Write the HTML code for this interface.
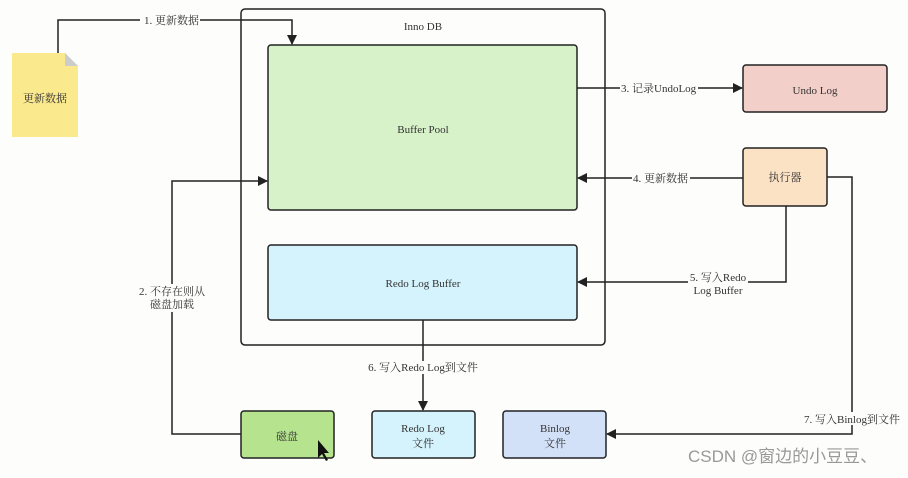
<!DOCTYPE html>
<html><head><meta charset="utf-8"><style>
body{margin:0;background:#fdfdfb;}
svg text{font-family:"Liberation Serif","Noto Serif CJK SC",serif;font-size:11px;fill:#333;}
</style></head><body>
<svg width="908" height="473" viewBox="0 0 908 473" xmlns="http://www.w3.org/2000/svg">
<defs><marker id="a" markerWidth="10" markerHeight="10" refX="9" refY="5" orient="auto" markerUnits="userSpaceOnUse"><path d="M0,0 L10,5 L0,10 z" fill="#222"/></marker></defs>
<rect x="241" y="9" width="364" height="336" rx="4" fill="none" stroke="#222" stroke-width="1.5"/>
<text x="423" y="30" text-anchor="middle">Inno DB</text>
<rect x="268" y="45" width="309" height="165" rx="3" fill="#d7f2c9" stroke="#222" stroke-width="1.5"/>
<text x="423" y="133" text-anchor="middle">Buffer Pool</text>
<rect x="268" y="245" width="309" height="75" rx="3" fill="#d5f3fc" stroke="#222" stroke-width="1.5"/>
<text x="423" y="287" text-anchor="middle">Redo Log Buffer</text>
<path d="M12,53 L65,53 L78,66 L78,137 L12,137 z" fill="#fbe98e"/>
<path d="M65,53 L78,66 L65,66 z" fill="#ccc"/>
<text x="45" y="102" text-anchor="middle">更新数据</text>
<rect x="743" y="65" width="144" height="47" rx="3" fill="#f2cfc9" stroke="#222" stroke-width="1.5"/>
<text x="815" y="94" text-anchor="middle">Undo Log</text>
<rect x="743" y="148" width="84" height="58" rx="3" fill="#fbe2c4" stroke="#222" stroke-width="1.5"/>
<text x="785" y="181" text-anchor="middle">执行器</text>
<rect x="241" y="411" width="93" height="47" rx="3" fill="#b5e38e" stroke="#222" stroke-width="1.5"/>
<text x="287" y="440" text-anchor="middle">磁盘</text>
<rect x="372" y="411" width="103" height="47" rx="3" fill="#d5f3fc" stroke="#222" stroke-width="1.5"/>
<text x="423" y="432" text-anchor="middle">Redo Log</text><text x="423" y="447" text-anchor="middle">文件</text>
<rect x="503" y="411" width="103" height="47" rx="3" fill="#d3e1f8" stroke="#222" stroke-width="1.5"/>
<text x="555" y="432" text-anchor="middle">Binlog</text><text x="555" y="447" text-anchor="middle">文件</text>
<g fill="none" stroke="#222" stroke-width="1.5">
<path d="M58,53 L58,20 L292,20 L292,44" marker-end="url(#a)"/>
<path d="M577,88 L742,88" marker-end="url(#a)"/>
<path d="M743,178 L578,178" marker-end="url(#a)"/>
<path d="M786,206 L786,282 L578,282" marker-end="url(#a)"/>
<path d="M827,177 L852,177 L852,434 L607,434" marker-end="url(#a)"/>
<path d="M241,434 L172,434 L172,181 L267,181" marker-end="url(#a)"/>
<path d="M423,320 L423,410" marker-end="url(#a)"/>
</g>
<g>
<rect x="140" y="14" width="60" height="13" fill="#fdfdfb"/><text x="144" y="24">1. 更新数据</text>
<rect x="620" y="82" width="78" height="13" fill="#fdfdfb"/><text x="621" y="92">3. 记录UndoLog</text>
<rect x="632" y="172" width="58" height="13" fill="#fdfdfb"/><text x="633" y="182">4. 更新数据</text>
<rect x="688" y="270" width="60" height="28" fill="#fdfdfb"/><text x="718" y="281" text-anchor="middle">5. 写入Redo</text><text x="718" y="294" text-anchor="middle">Log Buffer</text>
<rect x="135" y="284" width="74" height="28" fill="#fdfdfb"/><text x="172" y="295" text-anchor="middle">2. 不存在则从</text><text x="172" y="308" text-anchor="middle">磁盘加载</text>
<rect x="365" y="361" width="116" height="13" fill="#fdfdfb"/><text x="423" y="371" text-anchor="middle">6. 写入Redo Log到文件</text>
<rect x="802" y="412" width="100" height="13" fill="#fdfdfb"/><text x="852" y="423" text-anchor="middle">7. 写入Binlog到文件</text>
</g>
<path d="M318,440 L318,458 L322,454 L326,461 L328,460 L324,453 L329,453 z" fill="#111"/>
<text x="688" y="462" style="font-family:'Liberation Sans','Noto Sans CJK SC',sans-serif;font-size:17px;fill:#999">CSDN @窗边的小豆豆、</text>
</svg>
</body></html>
